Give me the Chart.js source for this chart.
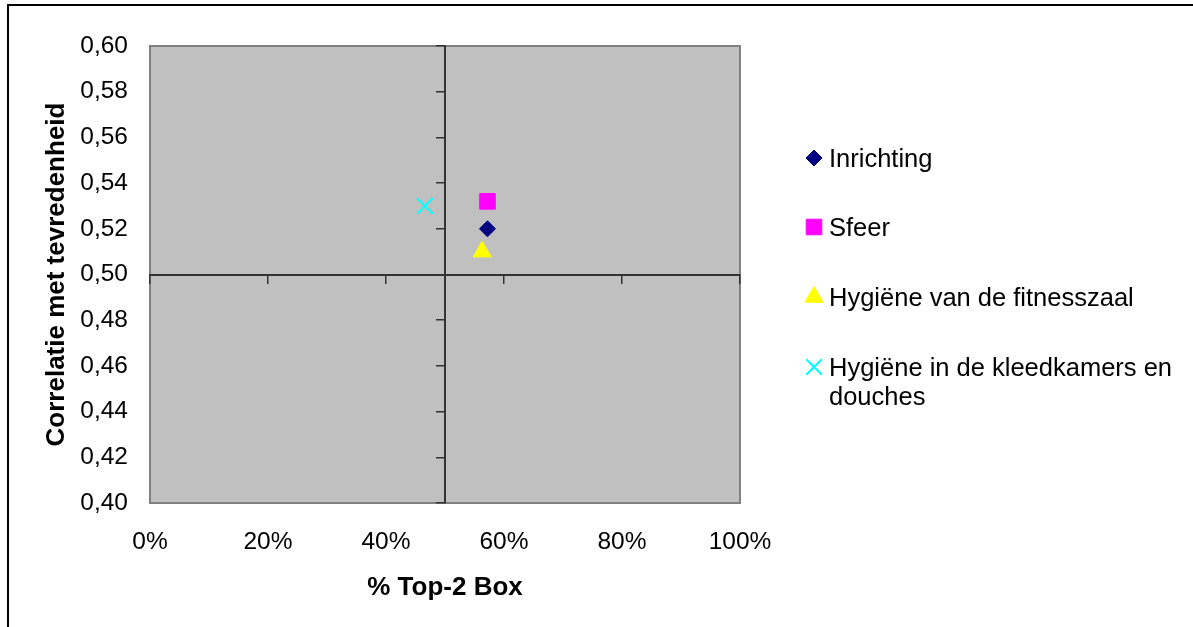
<!DOCTYPE html>
<html>
<head>
<meta charset="utf-8">
<script src="https://cdn.jsdelivr.net/npm/chart.js@4/dist/chart.umd.min.js"></script>
<style>
  html, body { margin: 0; padding: 0; background: #ffffff; }
  #wrap { position: relative; width: 1193px; height: 627px; }
</style>
</head>
<body>
<div id="wrap"><canvas id="c" width="1193" height="627"></canvas></div>
<script>
// Series shown in the quadrant chart
const seriesNames = ['Inrichting', 'Sfeer', 'Hygiëne van de fitnesszaal', 'Hygiëne in de kleedkamers en douches'];
// % Top-2 Box per series
const topBox = [0.572, 0.572, 0.563, 0.466];
// Correlation with satisfaction per series
const correlatie = [0.520, 0.532, 0.510, 0.530];

const xTitle = '% Top-2 Box';
const yTitle = 'Correlatie met tevredenheid';
const xMin = 0, xMax = 1, xStep = 0.2, xCross = 0.5;
const yMin = 0.40, yMax = 0.60, yStep = 0.02, yCross = 0.50;

const seriesStyle = [
  { color: '#000080', pointStyle: 'rectRot',  radius: 8,    borderWidth: 1 },
  { color: '#ff00ff', pointStyle: 'rect',     radius: 11,   borderWidth: 1 },
  { color: '#ffff00', pointStyle: 'triangle', radius: 10.5, borderWidth: 1 },
  { color: '#00ffff', pointStyle: 'crossRot', radius: 11,   borderWidth: 2 }
];

const FONT = "'Liberation Sans', Arial, Helvetica, sans-serif";

const datasets = seriesNames.map((name, i) => ({
  label: name,
  data: [{ x: topBox[i], y: correlatie[i] }],
  pointStyle: seriesStyle[i].pointStyle,
  pointRadius: seriesStyle[i].radius,
  pointHoverRadius: seriesStyle[i].radius,
  pointBackgroundColor: seriesStyle[i].color,
  pointBorderColor: seriesStyle[i].color,
  pointBorderWidth: seriesStyle[i].borderWidth,
  backgroundColor: seriesStyle[i].color,
  borderColor: seriesStyle[i].color,
  showLine: false
}));

// Page frame, grey plot background and plot border
const framePlugin = {
  id: 'frame',
  beforeDraw(chart) {
    const { ctx, chartArea: a } = chart;
    ctx.save();
    ctx.fillStyle = '#ffffff';
    ctx.fillRect(0, 0, chart.width, chart.height);
    ctx.strokeStyle = '#000000';
    ctx.lineWidth = 2;
    ctx.beginPath();
    ctx.moveTo(8, chart.height + 2);
    ctx.lineTo(8, 5);
    ctx.lineTo(chart.width + 2, 5);
    ctx.stroke();
    ctx.fillStyle = '#c0c0c0';
    ctx.fillRect(a.left, a.top, a.right - a.left, a.bottom - a.top);
    ctx.strokeStyle = '#808080';
    ctx.lineWidth = 2;
    ctx.strokeRect(a.left, a.top, a.right - a.left, a.bottom - a.top);
    ctx.restore();
  }
};

// Legend on the right, with wrapping of long names
const sideLegend = {
  id: 'sideLegend',
  afterDraw(chart) {
    const { ctx } = chart;
    const markerX = 814, textX = 829, maxW = 356, lineH = 29;
    const rowY = [158, 227, 297, 367];
    ctx.save();
    ctx.font = '25.5px ' + FONT;
    ctx.textBaseline = 'middle';
    ctx.textAlign = 'left';
    chart.data.datasets.forEach((ds, i) => {
      const y = rowY[i];
      ctx.fillStyle = ds.pointBackgroundColor;
      ctx.strokeStyle = ds.pointBorderColor;
      ctx.lineWidth = ds.pointBorderWidth;
      Chart.helpers.drawPoint(ctx, {
        pointStyle: ds.pointStyle,
        radius: ds.pointRadius,
        rotation: 0,
        borderWidth: ds.pointBorderWidth
      }, markerX, y);
      const words = ds.label.split(' ');
      const lines = [];
      let cur = '';
      words.forEach(w => {
        const t = cur ? cur + ' ' + w : w;
        if (ctx.measureText(t).width > maxW && cur) { lines.push(cur); cur = w; }
        else cur = t;
      });
      lines.push(cur);
      ctx.fillStyle = '#000000';
      lines.forEach((ln, k) => ctx.fillText(ln, textX, y + 1.5 + k * lineH));
    });
    ctx.restore();
  }
};

const tickFont = { family: FONT, size: 24.5 };
const titleFont = { family: FONT, size: 26, weight: 'bold' };
const axisColor = '#333333';

new Chart(document.getElementById('c'), {
  type: 'scatter',
  data: { datasets },
  options: {
    responsive: false,
    animation: false,
    events: [],
    layout: { padding: { left: 40, right: 453, top: 46, bottom: 20 } },
    plugins: { legend: { display: false }, tooltip: { enabled: false } },
    scales: {
      x: {
        type: 'linear', position: 'bottom', min: xMin, max: xMax,
        grid: { display: false, drawTicks: false },
        border: { display: false },
        ticks: {
          stepSize: xStep, padding: 25, color: '#000000', font: tickFont,
          maxRotation: 0,
          callback: v => Math.round(v * 100) + '%'
        },
        title: { display: true, text: xTitle, color: '#000000', font: titleFont, padding: { top: 0, bottom: 4 } },
        afterFit: s => { s.height = 104; }
      },
      y: {
        type: 'linear', position: 'left', min: yMin, max: yMax,
        grid: { display: false, drawTicks: false },
        border: { display: false },
        ticks: {
          stepSize: yStep, padding: 22, color: '#000000', font: tickFont,
          callback: v => v.toFixed(2).replace('.', ',')
        },
        title: { display: true, text: yTitle, color: '#000000', font: titleFont, padding: { top: 1, bottom: 0 } },
        afterFit: s => { s.width = 110; }
      },
      xc: {
        type: 'linear', axis: 'x', position: { y: yCross }, min: xMin, max: xMax,
        ticks: { display: false, stepSize: xStep },
        grid: { drawOnChartArea: false, drawTicks: true, tickLength: 8, color: axisColor, lineWidth: 1.5 },
        border: { display: true, color: axisColor, width: 2 }
      },
      yc: {
        type: 'linear', axis: 'y', position: { x: xCross }, min: yMin, max: yMax,
        ticks: { display: false, stepSize: yStep },
        grid: { drawOnChartArea: false, drawTicks: true, tickLength: 8, color: axisColor, lineWidth: 1.5 },
        border: { display: true, color: axisColor, width: 2 }
      }
    }
  },
  plugins: [framePlugin, sideLegend]
});
</script>
</body>
</html>
